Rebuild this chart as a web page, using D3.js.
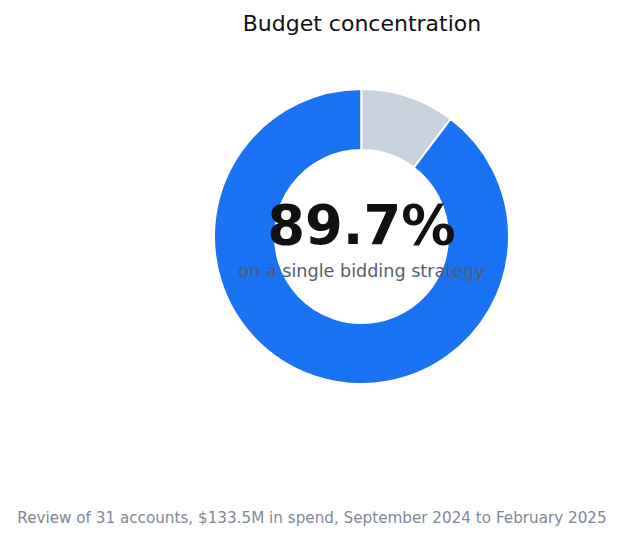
<!DOCTYPE html>
<html><head><meta charset="utf-8">
<script src="https://cdn.jsdelivr.net/npm/d3@7"></script>
<style>body{margin:0;background:#fff}svg{display:block}</style>
</head><body>
<script>
const categories = ["Single bidding strategy", "Other"];
const values = [89.7, 10.3];
const colors = ["#1a73f5", "#c8d2dc"];
const title = "Budget concentration";
const centerLabel = "89.7%";
const centerSub = "on a single bidding strategy";
const footnote = "Review of 31 accounts, $133.5M in spend, September 2024 to February 2025";

const W = 624, H = 541, cx = 361.5, cy = 236.5, rOut = 147.5, rIn = 86.5;
const svg = d3.select("body").append("svg").attr("width", W).attr("height", H);
const font = "DejaVu Sans, sans-serif";

svg.append("text").attr("x", 362).attr("y", 31).attr("text-anchor", "middle")
  .attr("font-family", font).attr("font-size", 22).attr("fill", "#111").text(title);

const color = d3.scaleOrdinal().domain(categories).range(colors);
const arc = d3.arc().innerRadius(rIn).outerRadius(rOut);
const total = d3.sum(values);
const arcs = d3.pie().sort(null).value(d => d.v)
  .startAngle(-2 * Math.PI * values[0] / total)
  .endAngle(2 * Math.PI * values[1] / total)(values.map((v, i) => ({ c: categories[i], v })));
const g = svg.append("g").attr("transform", `translate(${cx},${cy})`);
g.selectAll("path").data(arcs).join("path")
  .attr("d", arc).attr("fill", d => color(d.data.c)).attr("stroke", "#fff").attr("stroke-width", 2);

svg.append("text").attr("x", 361.5).attr("y", 244).attr("text-anchor", "middle")
  .attr("font-family", font).attr("font-weight", "bold").attr("font-size", 54.3).attr("fill", "#111").text(centerLabel);
svg.append("text").attr("x", 361.5).attr("y", 277).attr("text-anchor", "middle")
  .attr("font-family", font).attr("font-size", 17.6).attr("fill", "#555e6a").text(centerSub);
svg.append("text").attr("x", 312).attr("y", 523).attr("text-anchor", "middle")
  .attr("font-family", font).attr("font-size", 15.2).attr("fill", "#7f8896").text(footnote);
</script>
</body></html>
